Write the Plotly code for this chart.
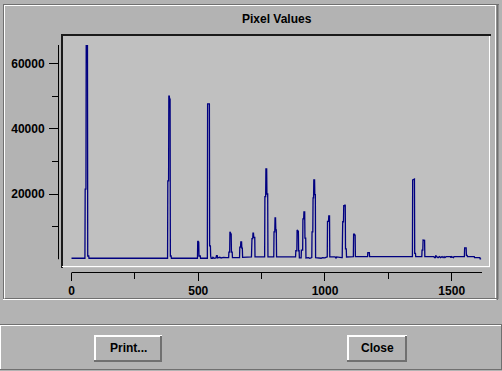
import plotly.graph_objects as go

# ---------------- data ----------------
channel = [
    0, 53, 54, 57, 58, 63, 64, 68, 69,
    379, 380, 383, 384, 386, 387, 389, 390, 393, 394,
    497, 498, 500, 502, 503, 508, 509,
    536, 537, 544, 545, 548, 549, 551,
    556, 558, 562, 570, 572, 575, 576, 585, 590, 600, 610, 620,
    621, 624, 625, 628, 630, 631, 634, 635,
    663, 664, 667, 668, 671, 672, 674, 675,
    690, 710, 712, 715, 716, 718, 719, 723, 724,
    762, 763, 766, 767, 770, 771, 774, 775,
    798, 799, 802, 803, 805, 806, 808, 809,
    884, 885, 889, 890, 893, 895, 896, 898, 899, 905,
    906, 907, 912, 913, 916, 917, 920, 921, 924, 925,
    935, 940, 944, 948, 949, 952, 953, 955, 956, 959, 960, 962, 963,
    970, 975, 985, 990, 1000, 1008,
    1009, 1010, 1014, 1015, 1018, 1019,
    1040, 1044, 1046, 1066, 1068, 1069, 1070, 1073, 1074, 1077, 1078, 1080, 1081, 1084, 1085,
    1112, 1113, 1116, 1117, 1119, 1120,
    1168, 1169, 1175, 1176,
    1345, 1346, 1349, 1353, 1354, 1357, 1358,
    1382, 1383, 1386, 1387, 1390, 1391, 1393, 1394,
    1430, 1432, 1436, 1437, 1440, 1446, 1452, 1456, 1462, 1466, 1470, 1473, 1478, 1495, 1497, 1499, 1507, 1509,
    1550, 1551, 1557, 1558, 1561, 1562,
    1589, 1590, 1611, 1612, 1616,
]
counts = [
    300, 300, 21500, 21500, 65500, 65500, 1000, 1000, 300,
    300, 24000, 24000, 50000, 50000, 49100, 49100, 1000, 1000, 300,
    300, 5600, 5500, 5300, 1000, 1000, 300,
    300, 47600, 47600, 4100, 4100, 1000, 300,
    300, 600, 300, 400, 1100, 1100, 400, 600, 400, 600, 500, 500,
    2200, 2200, 8400, 8000, 7700, 2200, 2200, 500,
    500, 3700, 3700, 5300, 5300, 3400, 3400, 600,
    700, 700, 6300, 6300, 8000, 8000, 6700, 6700, 700,
    700, 19200, 19200, 27700, 27700, 20000, 20000, 700,
    700, 8400, 8400, 12700, 12700, 9000, 9000, 700,
    700, 2600, 2600, 9000, 8600, 8600, 2600, 2600, 400, 400,
    400, 2800, 2800, 12400, 12400, 14500, 14500, 6500, 6500, 400,
    500, 300, 500, 500, 8400, 8400, 18800, 18800, 24300, 24300, 19800, 19800, 500,
    400, 500, 300, 500, 400, 700,
    700, 11600, 11600, 13300, 13300, 700,
    700, 300, 700, 500, 500, 6100, 11500, 11500, 16400, 16400, 16700, 16700, 3200, 3200, 700,
    800, 7700, 7700, 7400, 7400, 800,
    800, 2000, 2000, 800,
    800, 24300, 24500, 24600, 1800, 1800, 800,
    800, 2800, 2800, 5900, 5900, 5800, 5800, 800,
    800, 500, 500, 1200, 800, 500, 800, 500, 800, 500, 800, 500, 800, 800, 500, 800, 500, 800,
    800, 3500, 3500, 1200, 1200, 800,
    800, 500, 500, 100, 100,
]

x_major = [0, 500, 1000, 1500]
x_minor = [250, 750, 1250]
y_major = [20000, 40000, 60000]
y_minor = [10000, 30000, 50000]
x_range = [-49.3, 1619.5]
y_range = [-3908, 65670]

title_text = "Pixel Values"
button_labels = ["Print...", "Close"]

# ---------------- geometry / style ----------------
W, H = 502, 371
L, T, R, B = 59, 45, 482, 272
PW, PH = R - L, B - T

BG = "#b3b3b3"
PLOT_BG = "#c0c0c0"
DARK = "#707070"
BLACK_EDGE = "#1a1a1a"
WHITE = "#ffffff"
LINE = "#000080"
FONT = "Liberation Sans"


def fx(p):
    return (p - L) / PW


def fy(p):
    return (B - p) / PH


shapes = []


def hline(x0, x1, y, color, w=1):
    shapes.append(dict(type="line", xref="paper", yref="paper", x0=fx(x0), x1=fx(x1),
                       y0=fy(y), y1=fy(y), line=dict(color=color, width=w), layer="below"))


def vline(x, y0, y1, color, w=1):
    shapes.append(dict(type="line", xref="paper", yref="paper", x0=fx(x), x1=fx(x),
                       y0=fy(y0), y1=fy(y1), line=dict(color=color, width=w), layer="below"))


def rect(x0, y0, x1, y1, fill):
    shapes.append(dict(type="rect", xref="paper", yref="paper", x0=fx(x0), x1=fx(x1),
                       y0=fy(y1), y1=fy(y0), fillcolor=fill, line=dict(width=0), layer="below"))


# outer etched frame
hline(3, 499, 4.5, DARK)
hline(4, 496, 5.5, WHITE)
vline(3.5, 4, 299, DARK)
vline(4.5, 5, 298, WHITE)
hline(5, 497, 298.5, DARK)
hline(3, 499, 299.5, WHITE)
vline(495.5, 5, 298, WHITE)
vline(497.5, 4, 300, DARK, 2)

# plot box
rect(61, 34, 490, 268, PLOT_BG)
hline(61, 491, 35, BLACK_EDGE, 2)
vline(62, 34, 268, BLACK_EDGE, 2)
hline(62, 490, 266.5, WHITE)
vline(489.5, 36, 267, WHITE)

# bottom button area
hline(0, 502, 324.5, DARK)
hline(0, 502, 325.5, WHITE)
vline(0.5, 325, 370, WHITE)
hline(0, 502, 369.5, DARK)
vline(501.5, 325, 370, DARK)


def button(x0, y0, x1, y1):
    rect(x0, y0, x1, y1, BG)
    hline(x0, x1, y0 + 1, WHITE, 2)
    vline(x0 + 1, y0, y1, WHITE, 2)
    hline(x0, x1, y1 - 1, DARK, 2)
    vline(x1 - 1, y0 + 1, y1, DARK, 2)


button(94, 335, 162, 362)
button(347, 335, 407, 362)

# axis lines (detached from plot box), drawn on the axes' scales
shapes.append(dict(type="line", xref="x", yref="paper", x0=0, x1=x_range[1],
                   y0=fy(272.5), y1=fy(272.5), line=dict(color="black", width=1)))
shapes.append(dict(type="line", xref="paper", yref="y", x0=fx(58.5), x1=fx(58.5),
                   y0=0, y1=y_range[1], line=dict(color="black", width=1)))

annotations = [
    dict(text=title_text, xref="paper", yref="paper", x=fx(276.5), y=fy(19.5),
         xanchor="center", yanchor="middle", showarrow=False,
         font=dict(family=FONT, size=12, color="black", weight="bold")),
    dict(text=button_labels[0], xref="paper", yref="paper", x=fx(128.5), y=fy(347.5),
         xanchor="center", yanchor="middle", showarrow=False,
         font=dict(family=FONT, size=12, color="black", weight="bold")),
    dict(text=button_labels[1], xref="paper", yref="paper", x=fx(377), y=fy(347.5),
         xanchor="center", yanchor="middle", showarrow=False,
         font=dict(family=FONT, size=12, color="black", weight="bold")),
]

fig = go.Figure()
fig.add_trace(go.Scatter(x=channel, y=counts, mode="lines",
                         line=dict(color=LINE, width=1.3), hoverinfo="skip", showlegend=False))

tickfont = dict(family=FONT, size=12, color="black", weight="bold")
fig.update_layout(
    template="none",
    width=W, height=H, autosize=False,
    margin=dict(l=L, r=W - R, t=T, b=H - B, pad=0),
    paper_bgcolor=BG, plot_bgcolor="rgba(0,0,0,0)",
    font=dict(family=FONT, size=12, color="black"),
    showlegend=False,
    shapes=shapes,
    annotations=annotations,
    xaxis=dict(range=x_range, showgrid=False, zeroline=False, showline=False,
               automargin=False, tickmode="array", tickvals=x_major,
               ticktext=[str(v) for v in x_major], ticks="outside", ticklen=8,
               tickwidth=1, tickcolor="black", tickfont=tickfont,
               minor=dict(tickmode="array", tickvals=x_minor, ticks="outside",
                          ticklen=6, tickwidth=1, tickcolor="black", showgrid=False)),
    yaxis=dict(range=y_range, showgrid=False, zeroline=False, showline=False,
               automargin=False, tickmode="array", tickvals=y_major,
               ticktext=[str(v) for v in y_major], ticks="outside", ticklen=9,
               tickwidth=1, tickcolor="black", tickfont=tickfont, ticklabelstandoff=2,
               minor=dict(tickmode="array", tickvals=y_minor, ticks="outside",
                          ticklen=6, tickwidth=1, tickcolor="black", showgrid=False)),
)

fig.write_html("out.html")
